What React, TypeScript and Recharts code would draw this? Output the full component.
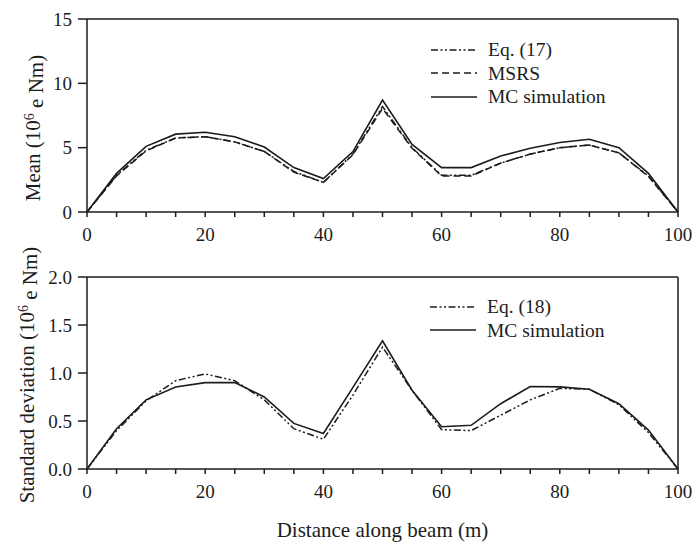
import React from "react";
import {
  LineChart,
  Line,
  XAxis,
  YAxis,
  Legend,
  Label,
  ReferenceLine,
} from "recharts";

// distance along beam (m)
const distance = [0, 5, 10, 15, 20, 25, 30, 35, 40, 45, 50, 55, 60, 65, 70, 75, 80, 85, 90, 95, 100];

// mean moment (10^6 e Nm)
const meanEq17 = [0, 2.85, 4.8, 5.75, 5.85, 5.45, 4.7, 3.15, 2.3, 4.5, 8.2, 5.0, 2.85, 2.85, 3.8, 4.5, 5.0, 5.2, 4.6, 2.8, 0];
const meanMSRS = [0, 2.8, 4.75, 5.75, 5.85, 5.45, 4.7, 3.1, 2.3, 4.45, 8.05, 4.95, 2.8, 2.8, 3.8, 4.5, 5.0, 5.2, 4.6, 2.75, 0];
const meanMC = [0, 3.0, 5.1, 6.05, 6.2, 5.85, 5.05, 3.45, 2.6, 4.7, 8.7, 5.25, 3.45, 3.45, 4.35, 4.95, 5.4, 5.65, 5.0, 3.0, 0];

// standard deviation (10^6 e Nm)
const stdEq18 = [0, 0.4, 0.71, 0.92, 0.99, 0.92, 0.72, 0.42, 0.31, 0.77, 1.27, 0.82, 0.41, 0.4, 0.56, 0.72, 0.84, 0.83, 0.67, 0.38, 0];
const stdMC = [0, 0.42, 0.72, 0.855, 0.9, 0.9, 0.75, 0.475, 0.37, 0.85, 1.335, 0.82, 0.44, 0.455, 0.68, 0.86, 0.855, 0.83, 0.68, 0.405, 0];

const xTicks = [0, 5, 10, 15, 20, 25, 30, 35, 40, 45, 50, 55, 60, 65, 70, 75, 80, 85, 90, 95, 100];
const meanTicks = [0, 5, 10, 15];
const stdTicks = [0, 0.5, 1.0, 1.5, 2.0];

const meanNames = ["Eq. (17)", "MSRS", "MC simulation"];
const stdNames = ["Eq. (18)", "MC simulation"];

const FONT = '"Liberation Serif", "Times New Roman", serif';
const INK = "#1c1c1c";
const DASH_DOT = "7 2.5 2 2.5 2 2.5";
const DASHED = "7 4";

const meanData = distance.map((x, i) => ({
  x,
  eq: meanEq17[i],
  msrs: meanMSRS[i],
  mc: meanMC[i],
}));

const stdData = distance.map((x, i) => ({
  x,
  eq: stdEq18[i],
  mc: stdMC[i],
}));

type Item = { name: string; dash?: string };

function LegendBox({ items }: { items: Item[] }) {
  return (
    <div style={{ fontFamily: FONT, fontSize: 19.5, color: INK }}>
      {items.map((it) => (
        <div key={it.name} style={{ display: "flex", alignItems: "center", height: 23.5 }}>
          <svg width={46} height={6} style={{ marginRight: 11 }}>
            <line x1={0} y1={3} x2={46} y2={3} stroke={INK} strokeWidth={1.6} strokeDasharray={it.dash} />
          </svg>
          <span style={{ lineHeight: "23.5px", whiteSpace: "nowrap" }}>{it.name}</span>
        </div>
      ))}
    </div>
  );
}

function YTitle({ x, y, text }: { x: number; y: number; text: string }) {
  return (
    <text
      x={x}
      y={y}
      transform={`rotate(-90 ${x} ${y})`}
      textAnchor="middle"
      fontFamily={FONT}
      fontSize={21}
      fill={INK}
    >
      {text} (10
      <tspan dy="-0.45em" fontSize={14}>
        6
      </tspan>
      <tspan dy="0.45em"> e Nm)</tspan>
    </text>
  );
}

const tickStyle = { fill: INK, fontSize: 19, fontFamily: FONT };
const axisStroke = { stroke: INK, strokeWidth: 1.5 };

function xFmt(v: number) {
  return v % 20 === 0 ? String(v) : "";
}

export default function App() {
  return (
    <div style={{ position: "absolute", left: 0, top: 0, width: 696, height: 545, background: "#fff" }}>
      <div style={{ position: "absolute", left: 0, top: 0 }}>
        <LineChart width={696} height={250} data={meanData} margin={{ top: 19, right: 18, bottom: 8, left: 0 }}>
          <XAxis
            dataKey="x"
            type="number"
            domain={[0, 100]}
            ticks={xTicks}
            interval={0}
            tickFormatter={xFmt}
            tick={tickStyle}
            tickSize={5}
            tickMargin={11}
            axisLine={axisStroke}
            tickLine={axisStroke}
            height={30}
          />
          <YAxis
            type="number"
            domain={[0, 15]}
            ticks={meanTicks}
            interval={0}
            tick={tickStyle}
            tickSize={9}
            tickMargin={6}
            axisLine={axisStroke}
            tickLine={axisStroke}
            width={87}
          >
            <Label content={() => <YTitle x={40} y={128} text="Mean" />} />
          </YAxis>
          <ReferenceLine y={15} stroke={INK} strokeWidth={1.5} />
          <ReferenceLine x={100} stroke={INK} strokeWidth={1.5} />
          <Line type="linear" dataKey="eq" name={meanNames[0]} stroke={INK} strokeWidth={1.5} strokeDasharray={DASH_DOT} dot={false} isAnimationActive={false} />
          <Line type="linear" dataKey="msrs" name={meanNames[1]} stroke={INK} strokeWidth={1.5} strokeDasharray={DASHED} dot={false} isAnimationActive={false} />
          <Line type="linear" dataKey="mc" name={meanNames[2]} stroke={INK} strokeWidth={1.6} dot={false} isAnimationActive={false} />
          <Legend
            layout="vertical"
            align="center"
            verticalAlign="middle"
            wrapperStyle={{ top: 38, left: 431, width: 220 }}
            content={() => (
              <LegendBox
                items={[
                  { name: meanNames[0], dash: DASH_DOT },
                  { name: meanNames[1], dash: DASHED },
                  { name: meanNames[2] },
                ]}
              />
            )}
          />
        </LineChart>
      </div>
      <div style={{ position: "absolute", left: 0, top: 235 }}>
        <LineChart width={696} height={310} data={stdData} margin={{ top: 42, right: 18, bottom: 46, left: 0 }}>
          <XAxis
            dataKey="x"
            type="number"
            domain={[0, 100]}
            ticks={xTicks}
            interval={0}
            tickFormatter={xFmt}
            tick={tickStyle}
            tickSize={5}
            tickMargin={11}
            axisLine={axisStroke}
            tickLine={axisStroke}
            height={30}
          >
            <Label
              value="Distance along beam (m)"
              position="bottom"
              offset={23}
              style={{ fill: INK, fontSize: 21, fontFamily: FONT }}
            />
          </XAxis>
          <YAxis
            type="number"
            domain={[0, 2]}
            ticks={stdTicks}
            interval={0}
            tickFormatter={(v: number) => v.toFixed(1)}
            tick={tickStyle}
            tickSize={9}
            tickMargin={6}
            axisLine={axisStroke}
            tickLine={axisStroke}
            width={87}
          >
            <Label content={() => <YTitle x={34} y={140} text="Standard deviation" />} />
          </YAxis>
          <ReferenceLine y={2} stroke={INK} strokeWidth={1.5} />
          <ReferenceLine x={100} stroke={INK} strokeWidth={1.5} />
          <Line type="linear" dataKey="eq" name={stdNames[0]} stroke={INK} strokeWidth={1.5} strokeDasharray={DASH_DOT} dot={false} isAnimationActive={false} />
          <Line type="linear" dataKey="mc" name={stdNames[1]} stroke={INK} strokeWidth={1.6} dot={false} isAnimationActive={false} />
          <Legend
            layout="vertical"
            align="center"
            verticalAlign="middle"
            wrapperStyle={{ top: 60, left: 430, width: 220 }}
            content={() => (
              <LegendBox
                items={[
                  { name: stdNames[0], dash: DASH_DOT },
                  { name: stdNames[1] },
                ]}
              />
            )}
          />
        </LineChart>
      </div>
    </div>
  );
}
